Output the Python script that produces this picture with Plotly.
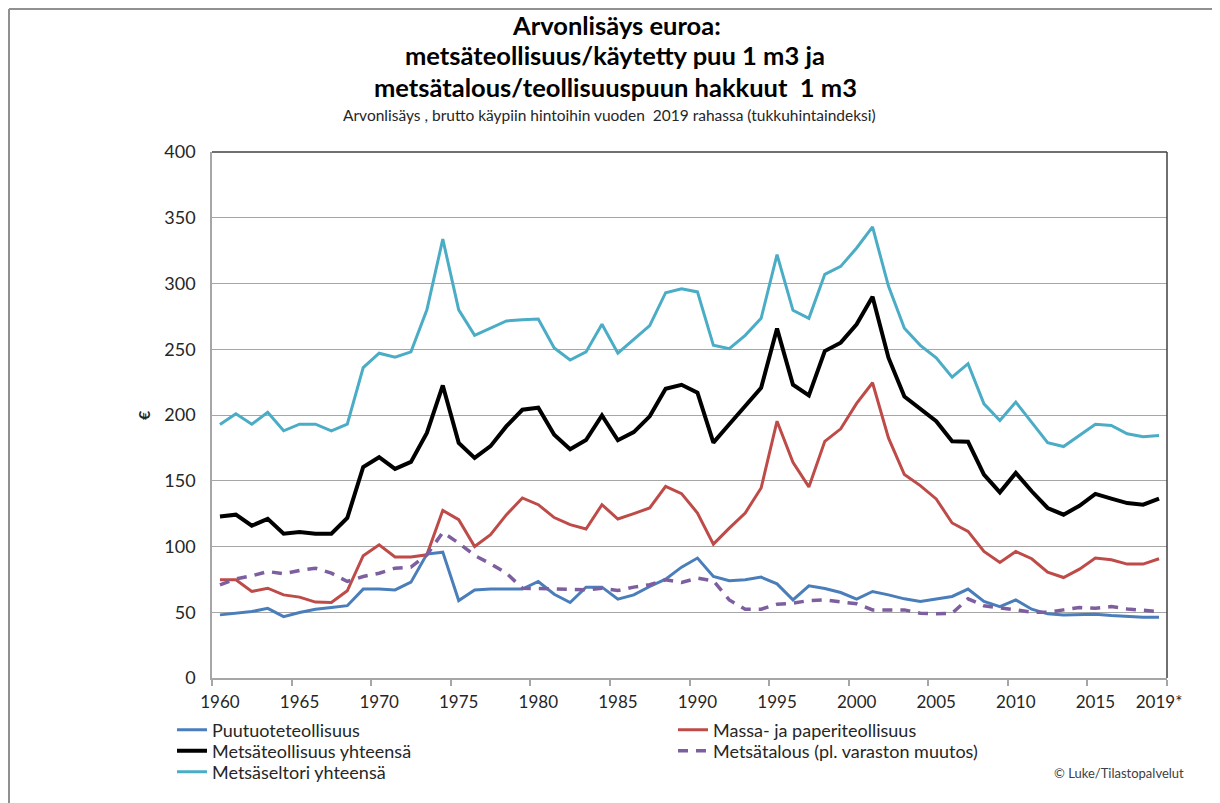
import plotly.graph_objects as go

years = list(range(1960, 2020))

puutuote = [48, 49.3, 50.5, 53, 46.7, 49.8, 52.3, 53.6, 55, 67.6,
            67.6, 67, 72.9, 94.2, 95.7, 58.9, 67, 67.6, 67.6, 67.6,
            73.4, 63.7, 57.4, 69.1, 69.1, 60, 63.2, 69.6, 75.2, 84.3,
            91.2, 77.2, 73.9, 74.7, 76.7, 71.6, 59.4, 70.1, 68, 65,
            60, 65.8, 63.2, 60.2, 58.2, 60.2, 62, 67.6, 58.2, 54.3,
            59.4, 52.3, 48.8, 48, 48, 48.5, 47.5, 46.7, 46.2, 46.2]

massa = [74.7, 74.7, 65.8, 68.3, 63.2, 61.5, 57.7, 57.4, 66.3, 93,
         101.3, 92, 92, 93.7, 127.5, 120.4, 100, 109, 124.2, 136.9,
         131.8, 122, 116.6, 113.3, 131.8, 120.9, 125, 129.3, 145.8, 140.2,
         125.5, 101.8, 114, 125.5, 144.5, 195.3, 164, 145.3, 180, 189.5,
         208.8, 224.5, 182.6, 154.7, 146.3, 136.2, 117.9, 111.5, 96.2, 87.9,
         96.2, 90.7, 80.5, 76.4, 82.8, 91.2, 89.9, 86.6, 86.6, 90.7]

metsateollisuus = [122.9, 124.2, 115.8, 121, 109.7, 111, 109.7, 109.7, 121.7, 160.5,
                   167.9, 159, 164.3, 186.4, 222.5, 178.8, 167.4, 176.3, 191.5, 204,
                   205.5, 185, 174, 181, 199.6, 180.8, 187, 199, 220, 223,
                   217, 179, 193, 206.7, 220.7, 265.7, 223, 214.9, 248.6, 255,
                   269, 290, 243.6, 214, 204.7, 195.3, 180, 179.6, 154.7, 141.2,
                   156, 142, 129.3, 124.2, 131, 140, 136.4, 133, 131.8, 136.4]

metsatalous = [70.9, 75.4, 77.7, 81, 79.2, 81.8, 83.5, 79.7, 73.4, 77.2,
               79.7, 83.5, 84.3, 93.7, 110.7, 102.6, 93.2, 86.9, 79.7, 68.3,
               68, 67.6, 67.6, 67, 68.3, 66.5, 69.1, 70.9, 74.7, 72.6,
               75.9, 73.9, 59.4, 52.3, 52.3, 56.1, 56.9, 58.9, 59.4, 58.2,
               56.4, 51.8, 51.8, 51.8, 49.3, 48.8, 49.3, 60.2, 54.9, 53.6,
               51.8, 50, 50, 51.8, 53.6, 53, 54.3, 52.5, 51.8, 50.5]

metsasektori = [192.8, 201, 193, 202, 188, 193, 193, 188, 193, 236,
                247, 244, 248, 280, 333.7, 280, 260.6, 266, 271.5, 272.5,
                273, 251, 241.8, 248, 269, 247, 257.5, 268, 293, 296,
                293.6, 253, 250.4, 260.6, 273.5, 322, 279.6, 273.5, 307, 313,
                327, 343, 298, 266, 253, 243.5, 228.8, 239, 208.5, 195.8,
                209.8, 194, 179, 176, 184.6, 193, 192, 185.7, 183.4, 184.4]

tick_years = [1960, 1965, 1970, 1975, 1980, 1985, 1990, 1995, 2000, 2005, 2010, 2015, 2019]
tick_labels = ["1960", "1965", "1970", "1975", "1980", "1985", "1990", "1995",
               "2000", "2005", "2010", "2015", "2019*"]

FONT = "Lato"
TXT = "#262626"

# page body has an 8px margin; all layout pixel positions below are window pixels
OFF = 8
W, H = 1220 - OFF, 803 - OFF
L, R, T, B = 212, 1167, 152, 678
pw, ph = R - L, B - T

def px2x(p):
    return (p - L) / pw

def py2y(p):
    return (B - p) / ph

fig = go.Figure()
fig.add_trace(go.Scatter(x=years, y=puutuote, mode="lines", name="Puutuoteteollisuus",
                         line=dict(color="#4a7ebb", width=3), legend="legend"))
fig.add_trace(go.Scatter(x=years, y=massa, mode="lines", name="Massa- ja paperiteollisuus",
                         line=dict(color="#be4b48", width=3), legend="legend2"))
fig.add_trace(go.Scatter(x=years, y=metsateollisuus, mode="lines", name="Metsäteollisuus yhteensä",
                         line=dict(color="#000000", width=4), legend="legend3"))
fig.add_trace(go.Scatter(x=years, y=metsatalous, mode="lines", name="Metsätalous (pl. varaston muutos)",
                         line=dict(color="#7d5fa0", width=3.5, dash="10px,8px"), legend="legend4"))
fig.add_trace(go.Scatter(x=years, y=metsasektori, mode="lines", name="Metsäseltori yhteensä",
                         line=dict(color="#4bacc6", width=3), legend="legend5"))

def leg(xp, yc):
    return dict(font=dict(family=FONT, size=18, color=TXT), bgcolor="rgba(0,0,0,0)",
                borderwidth=0, xanchor="left", yanchor="middle", orientation="v",
                itemwidth=30, x=px2x(xp), y=py2y(yc))

fig.update_layout(
    width=W, height=H,
    margin=dict(l=L - OFF, r=W - (R - OFF), t=T - OFF, b=H - (B - OFF), pad=0, autoexpand=False),
    paper_bgcolor="white", plot_bgcolor="white",
    font=dict(family=FONT, color=TXT),
    showlegend=True,
    legend=leg(172, 730),
    legend3=leg(172, 751),
    legend5=leg(172, 772),
    legend2=leg(673, 730),
    legend4=leg(673, 751),
    xaxis=dict(
        range=[1959.5, 2019.5], tickmode="array", tickvals=tick_years, ticktext=tick_labels,
        ticks="", showgrid=False, zeroline=False,
        showline=True, linecolor="#a6a6a6", linewidth=1.5,
        tickfont=dict(family=FONT, size=17, color=TXT),
        ticklabelstandoff=8,
        minor=dict(tickmode="linear", tick0=1959.5, dtick=5, ticks="outside",
                   ticklen=6, tickcolor="#a6a6a6", tickwidth=1.5, showgrid=False),
    ),
    yaxis=dict(
        range=[0, 400], dtick=50, tick0=0, showgrid=True, gridcolor="#a6a6a6", gridwidth=1.3,
        zeroline=False, showline=True, linecolor="#a6a6a6", linewidth=1.5, ticks="",
        tickfont=dict(family=FONT, size=18, color=TXT), ticklabelstandoff=11,
    ),
    shapes=[
        dict(type="line", xref="paper", yref="paper", x0=0, x1=1, y0=1, y1=1,
             line=dict(color="#404040", width=1.5)),
        dict(type="line", xref="paper", yref="paper", x0=1, x1=1, y0=0, y1=1,
             line=dict(color="#404040", width=1.5)),
        dict(type="line", xref="paper", yref="paper", x0=px2x(9), x1=px2x(1230),
             y0=py2y(9), y1=py2y(9), line=dict(color="#909090", width=2)),
        dict(type="line", xref="paper", yref="paper", x0=px2x(9), x1=px2x(9),
             y0=py2y(9), y1=py2y(810), line=dict(color="#909090", width=2)),
    ],
    annotations=[
        dict(text="<b>Arvonlisäys euroa:</b>", x=px2x(616), y=py2y(25), xref="paper", yref="paper",
             showarrow=False, xanchor="center", yanchor="middle",
             font=dict(family=FONT, size=25.5, color="#000000")),
        dict(text="<b>metsäteollisuus/käytetty puu 1 m3 ja</b>", x=px2x(615), y=py2y(55),
             xref="paper", yref="paper", showarrow=False, xanchor="center", yanchor="middle",
             font=dict(family=FONT, size=25.5, color="#000000")),
        dict(text="<b>metsätalous/teollisuuspuun hakkuut  1 m3</b>", x=px2x(615), y=py2y(87),
             xref="paper", yref="paper", showarrow=False, xanchor="center", yanchor="middle",
             font=dict(family=FONT, size=25.5, color="#000000")),
        dict(text="Arvonlisäys , brutto käypiin hintoihin vuoden  2019 rahassa (tukkuhintaindeksi)",
             x=px2x(609), y=py2y(115), xref="paper", yref="paper", showarrow=False,
             xanchor="center", yanchor="middle",
             font=dict(family=FONT, size=15.5, color="#262626")),
        dict(text="<b>€</b>", x=px2x(143), y=0.5, xref="paper", yref="paper", showarrow=False,
             textangle=-90, xanchor="center", yanchor="middle",
             font=dict(family=FONT, size=16, color=TXT)),
        dict(text="© Luke/Tilastopalvelut", x=px2x(1186), y=py2y(773), xref="paper", yref="paper",
             showarrow=False, xanchor="right", yanchor="middle",
             font=dict(family=FONT, size=13, color="#404040")),
    ],
)

fig.write_html("out.html")
